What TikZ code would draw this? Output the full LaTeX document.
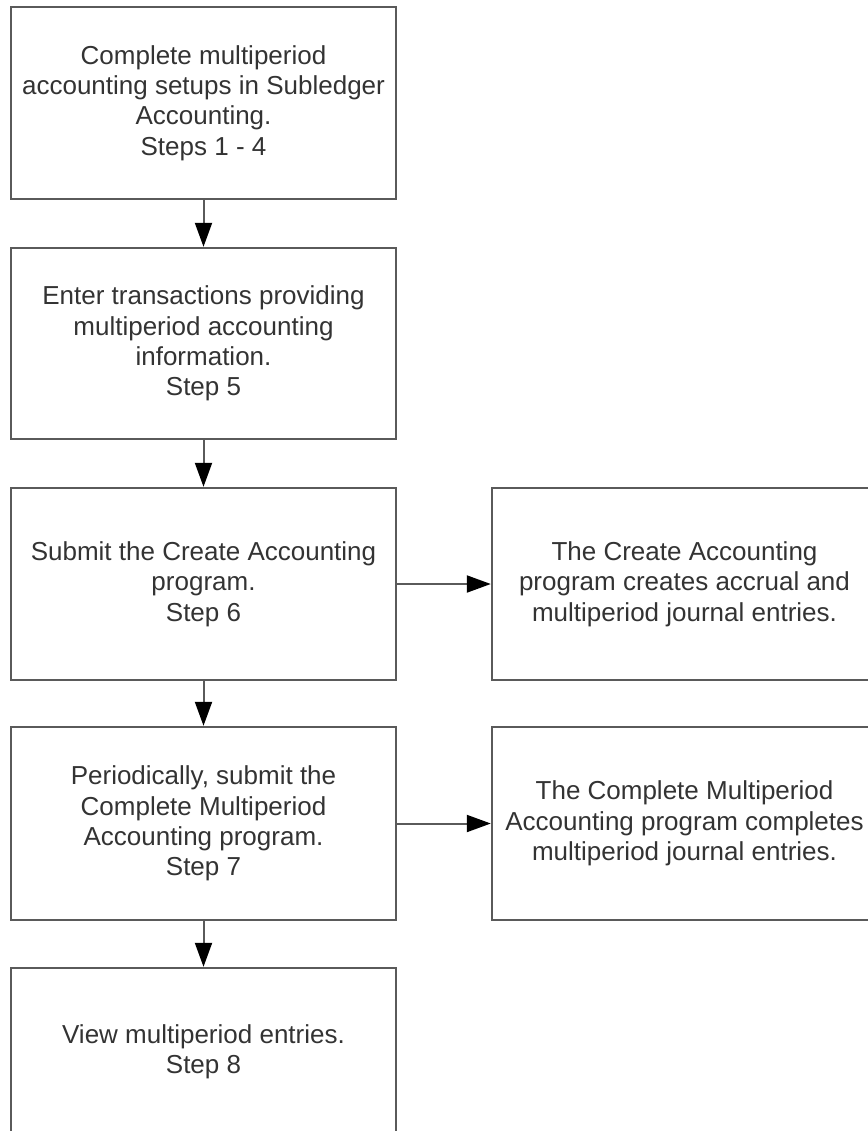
\documentclass[tikz,border=0pt]{standalone}
\usepackage{fontspec}
\setmainfont{Liberation Sans}
\usetikzlibrary{arrows.meta,positioning}
\definecolor{boxline}{HTML}{5A5A5A}
\definecolor{boxtext}{HTML}{333333}

\begin{document}
\begin{tikzpicture}[x=0.5pt,y=-0.5pt]
    \tikzstyle{every node}+=[inner sep=0pt]
    \tikzstyle{stepbox}=[draw=boxline,line width=1.2pt,text=boxtext,align=center,minimum width=192.5pt,font=\fontsize{13}{15.2}\selectfont]
    \tikzstyle{flow}=[draw=boxline,line width=1pt,-{Triangle[length=12pt,width=8.5pt,color=black,fill=black]}]
    \useasboundingbox (0,0) rectangle (868,1131);
    \node [stepbox,minimum height=96pt] (setup) at (203.5,103) {Complete multiperiod\\accounting setups in Subledger\\Accounting.\\Steps 1 - 4};
    \node [stepbox,minimum height=95.5pt] (enter) at (203.5,343.5) {Enter transactions providing\\multiperiod accounting\\information.\\Step 5};
    \node [stepbox,minimum height=96pt] (submit) at (203.5,584) {Submit the Create Accounting\\program.\\Step 6};
    \node [stepbox,minimum height=96.5pt] (periodic) at (203.5,823.5) {Periodically, submit the\\Complete Multiperiod\\Accounting program.\\Step 7};
    \node [stepbox,minimum height=84pt] (view) at (203.5,1052) {View multiperiod entries.\\Step 8};
    \node [stepbox,minimum height=96pt] (creates) at (684.5,584) {The Create Accounting\\program creates accrual and\\multiperiod journal entries.};
    \node [stepbox,minimum height=96.5pt] (completes) at (684.5,823.5) {The Complete Multiperiod\\Accounting program completes\\multiperiod journal entries.};
    \draw [flow] (setup) -- (enter);
    \draw [flow] (enter) -- (submit);
    \draw [flow] (submit) -- (periodic);
    \draw [flow] (periodic) -- (view);
    \draw [flow] (submit) -- (creates);
    \draw [flow] (periodic) -- (completes);
\end{tikzpicture}
\end{document}
